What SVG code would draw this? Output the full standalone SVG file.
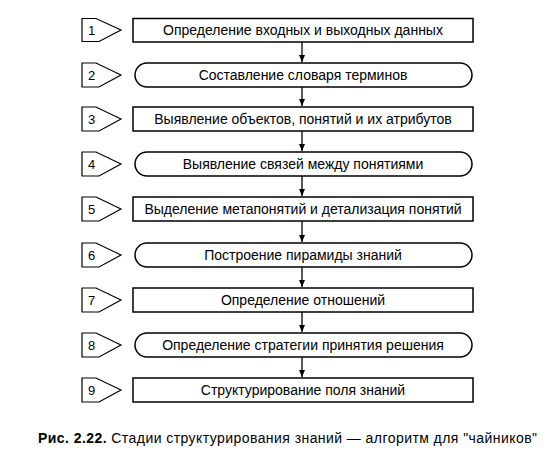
<svg xmlns="http://www.w3.org/2000/svg" width="557" height="472" viewBox="0 0 557 472">
<style>
.box{fill:#fff;stroke:#000;stroke-width:1.5}
.tag{fill:#fff;stroke:#000;stroke-width:1.2}
.t{font-family:"Liberation Sans",Arial,sans-serif;font-size:14px;fill:#000;text-anchor:middle}
.n{font-family:"Liberation Sans",Arial,sans-serif;font-size:13px;fill:#000}
.c{stroke:#000;stroke-width:1.3;fill:none}
.cap{font-family:"Liberation Sans",Arial,sans-serif;font-size:14px;fill:#000}
</style>
<defs>
<marker id="ah" markerWidth="8" markerHeight="8" refX="7" refY="4" orient="auto" markerUnits="userSpaceOnUse">
<path d="M0,1 L7,4 L0,7 Z" fill="#000"/>
</marker>
</defs>
<rect width="557" height="472" fill="#fff"/>
<g id="connectors">
<line class="c" x1="302" y1="42" x2="302" y2="62" marker-end="url(#ah)"/>
<line class="c" x1="302" y1="87" x2="302" y2="106" marker-end="url(#ah)"/>
<line class="c" x1="302" y1="131" x2="302" y2="151" marker-end="url(#ah)"/>
<line class="c" x1="302" y1="176" x2="302" y2="196" marker-end="url(#ah)"/>
<line class="c" x1="302" y1="221" x2="302" y2="242" marker-end="url(#ah)"/>
<line class="c" x1="302" y1="267" x2="302" y2="287" marker-end="url(#ah)"/>
<line class="c" x1="302" y1="312" x2="302" y2="332" marker-end="url(#ah)"/>
<line class="c" x1="302" y1="357" x2="302" y2="377" marker-end="url(#ah)"/>
</g>
<g id="step1">
<polygon class="tag" points="82,18.5 96,18.5 121,30 99,41.5 82,41.5"/>
<text class="n" x="88" y="35">1</text>
<rect class="box" x="133" y="18.5" width="340" height="23.5"/>
<text class="t" x="303" y="35">Определение входных и выходных данных</text>
</g>
<g id="step2">
<polygon class="tag" points="82,63 96,63 121,75 99,87 82,87"/>
<text class="n" x="88" y="80">2</text>
<rect class="box" x="135" y="63" width="337" height="24" rx="12"/>
<text class="t" x="303" y="80">Составление словаря терминов</text>
</g>
<g id="step3">
<polygon class="tag" points="82,107 96,107 121,119 99,131 82,131"/>
<text class="n" x="88" y="124">3</text>
<rect class="box" x="133" y="107" width="340" height="24"/>
<text class="t" x="303" y="124">Выявление объектов, понятий и их атрибутов</text>
</g>
<g id="step4">
<polygon class="tag" points="82,152 96,152 121,164 99,176 82,176"/>
<text class="n" x="88" y="169">4</text>
<rect class="box" x="135" y="152" width="337" height="24" rx="12"/>
<text class="t" x="303" y="169">Выявление связей между понятиями</text>
</g>
<g id="step5">
<polygon class="tag" points="82,197 96,197 121,209 99,221 82,221"/>
<text class="n" x="88" y="214">5</text>
<rect class="box" x="133" y="197" width="340" height="24"/>
<text class="t" x="303" y="214">Выделение метапонятий и детализация понятий</text>
</g>
<g id="step6">
<polygon class="tag" points="82,243 96,243 121,255 99,267 82,267"/>
<text class="n" x="88" y="260">6</text>
<rect class="box" x="135" y="243" width="337" height="24" rx="12"/>
<text class="t" x="303" y="260">Построение пирамиды знаний</text>
</g>
<g id="step7">
<polygon class="tag" points="82,288 96,288 121,300 99,312 82,312"/>
<text class="n" x="88" y="305">7</text>
<rect class="box" x="133" y="288" width="340" height="24"/>
<text class="t" x="303" y="305">Определение отношений</text>
</g>
<g id="step8">
<polygon class="tag" points="82,333 96,333 121,345 99,357 82,357"/>
<text class="n" x="88" y="350">8</text>
<rect class="box" x="135" y="333" width="337" height="24" rx="12"/>
<text class="t" x="303" y="350">Определение стратегии принятия решения</text>
</g>
<g id="step9">
<polygon class="tag" points="82,378 96,378 121,390 99,402 82,402"/>
<text class="n" x="88" y="395">9</text>
<rect class="box" x="133" y="378" width="340" height="24"/>
<text class="t" x="303" y="395">Структурирование поля знаний</text>
</g>
<text class="cap" x="38" y="443" textLength="499" lengthAdjust="spacing"><tspan font-weight="bold">Рис. 2.22.</tspan> Стадии структурирования знаний — алгоритм для "чайников"</text>
</svg>
